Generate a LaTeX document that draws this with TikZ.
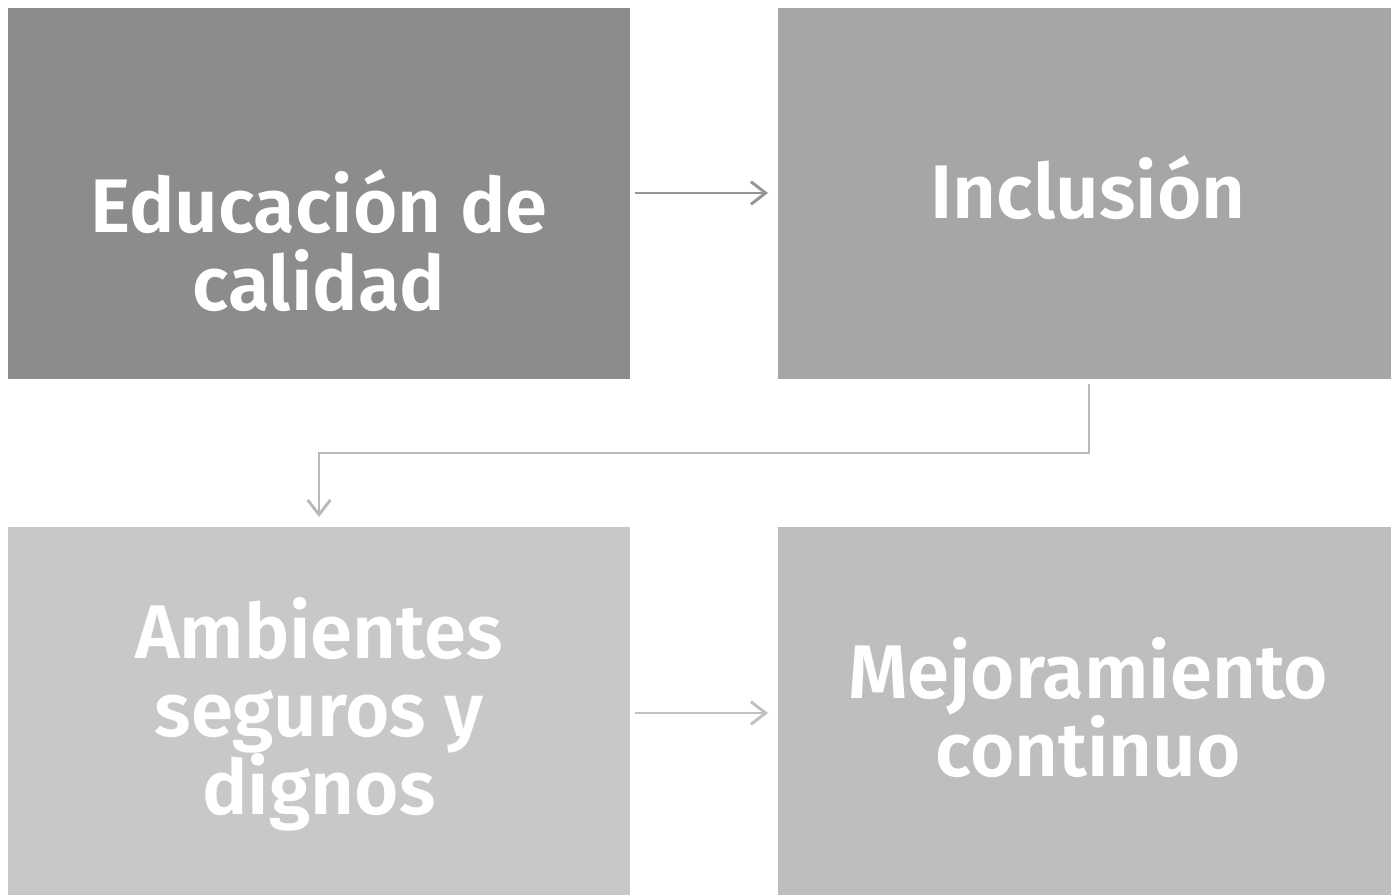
\documentclass[tikz,border=0pt]{standalone}
\usepackage{fontspec}
\setmainfont{Fira Sans}[BoldFont={Fira Sans SemiBold}]
\usetikzlibrary{arrows.meta}
\definecolor{c1}{RGB}{140,140,140}
\definecolor{c2}{RGB}{166,166,166}
\definecolor{c3}{RGB}{200,200,200}
\definecolor{c4}{RGB}{190,190,190}
\definecolor{a1}{RGB}{150,150,150}
\definecolor{a2}{RGB}{185,185,185}
\definecolor{a3}{RGB}{192,192,192}
\tikzset{
  box/.style={draw=none, anchor=north west, inner sep=0pt},
  lbl/.style={text=white, font=\fontsize{57}{58.5}\selectfont\bfseries, align=center, inner sep=0pt, anchor=base},
  conn/.style={line width=2.2pt, -{Straight Barb[length=11pt,width=17pt,line width=2.2pt]}},
}
\begin{document}
\begin{tikzpicture}[x=0.75pt,y=-0.75pt]
\useasboundingbox (0,0) rectangle (1391,895);
\node[box, fill=c1, minimum width=466.5pt, minimum height=278.25pt] (b1) at (8,8) {};
\node[box, fill=c2, minimum width=459.75pt, minimum height=278.25pt] (b2) at (778,8) {};
\node[box, fill=c3, minimum width=466.5pt, minimum height=276pt] (b3) at (8,527) {};
\node[box, fill=c4, minimum width=459.75pt, minimum height=276pt] (b4) at (778,527) {};
\node[lbl] (t1) at (319,310) {Educación de\\calidad};
\node[lbl] (t2) at (1088,218) {Inclusión};
\node[lbl] (t3) at (319,814) {Ambientes\\seguros y\\dignos};
\node[lbl] (t4) at (1088,776) {Mejoramiento\\continuo};
\draw[conn, a1] ([xshift=3pt]b1.east |- 0,193) -- ([xshift=-7.5pt]b2.west |- 0,193);
\draw[conn, a2, shorten <=3pt, shorten >=7.5pt] (b2.south -| 1089,0) -- (1089,453) -| (b3.north -| 319,0);
\draw[conn, a3] ([xshift=3pt]b3.east |- 0,713) -- ([xshift=-7.5pt]b4.west |- 0,713);
\end{tikzpicture}
\end{document}
